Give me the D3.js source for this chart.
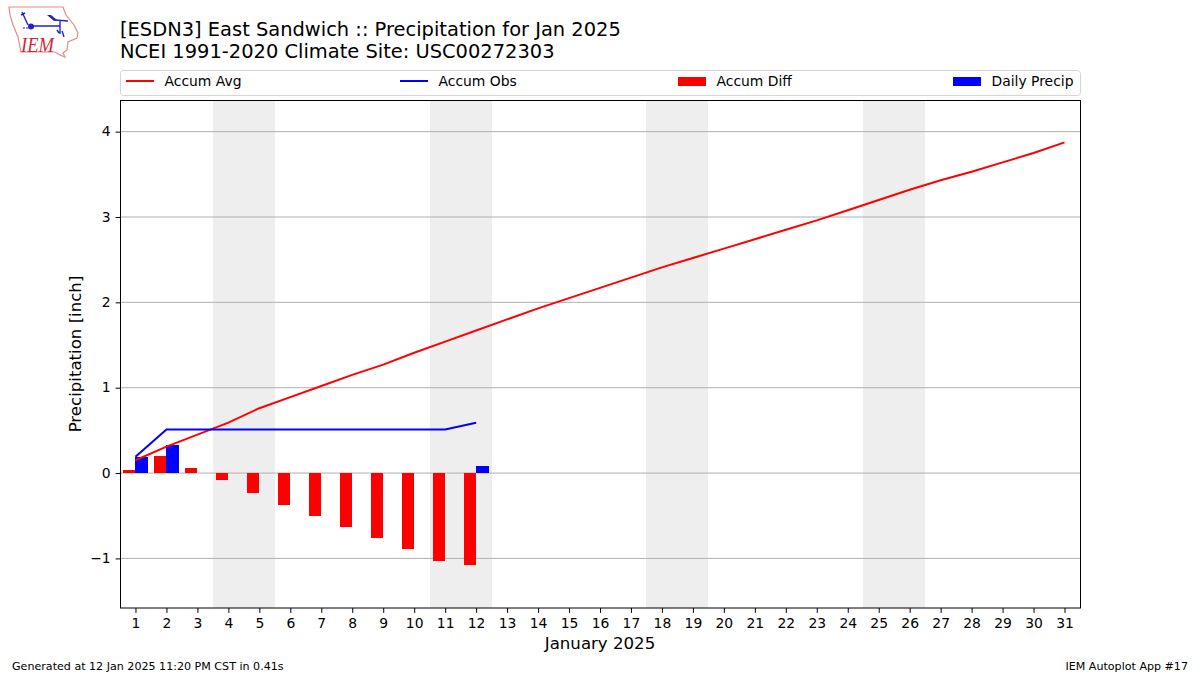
<!DOCTYPE html>
<html>
<head>
<meta charset="utf-8">
<script src="https://cdn.jsdelivr.net/npm/d3@7"></script>
<style>
  html, body { margin: 0; padding: 0; background: #fff; }
  text { font-family: "DejaVu Sans", sans-serif; fill: #000; }
</style>
</head>
<body>
<div id="chart"></div>
<script>
// Values
var days = d3.range(1, 32);
var accumAvg = [0.15, 0.31, 0.45, 0.59, 0.76, 0.89, 1.02, 1.15, 1.27, 1.41, 1.54, 1.67, 1.80, 1.93, 2.05, 2.17,
    2.29, 2.41, 2.52, 2.63, 2.74, 2.85, 2.96, 3.08, 3.20, 3.32, 3.43, 3.53, 3.64, 3.75, 3.875];
var accumObs = [0.19, 0.51, 0.51, 0.51, 0.51, 0.51, 0.51, 0.51, 0.51, 0.51, 0.51, 0.59];
var accumDiff = [0.035, 0.20, 0.06, -0.08, -0.235, -0.375, -0.505, -0.635, -0.76, -0.89, -1.03, -1.08];
var dailyPrecip = [0.19, 0.33, 0, 0, 0, 0, 0, 0, 0, 0, 0, 0.08];
var weekends = [[3.5, 5.5], [10.5, 12.5], [17.5, 19.5], [24.5, 26.5]];
var yTicks = [-1, 0, 1, 2, 3, 4];
var legendItems = [
    { label: "Accum Avg", color: "red", type: "line", x: 126 },
    { label: "Accum Obs", color: "blue", type: "line", x: 400 },
    { label: "Accum Diff", color: "red", type: "bar", x: 678 },
    { label: "Daily Precip", color: "blue", type: "bar", x: 953 }
];

var width = 1200, height = 675;
var plotLeft = 120.5, plotRight = 1080.5, plotTop = 100.5, plotBottom = 608;

var svg = d3.select("#chart").append("svg")
    .attr("width", width)
    .attr("height", height)
    .style("display", "block");

// Scales
var x = d3.scaleLinear().domain([0.5, 31.5]).range([120, 1080]);
var y = d3.scaleLinear().domain([-1.581, 4.365]).range([plotBottom, plotTop]);
var barW = x(1.4) - x(1);

// Weekend bands
svg.selectAll("rect.weekend")
    .data(weekends)
    .enter()
    .append("rect")
    .attr("class", "weekend")
    .attr("x", function (d) { return x(d[0]); })
    .attr("y", plotTop)
    .attr("width", function (d) { return x(d[1]) - x(d[0]); })
    .attr("height", plotBottom - plotTop)
    .attr("fill", "#eeeeee")
    .attr("shape-rendering", "crispEdges");

// Grid
svg.selectAll("line.grid")
    .data(yTicks)
    .enter()
    .append("line")
    .attr("class", "grid")
    .attr("x1", plotLeft)
    .attr("x2", plotRight)
    .attr("y1", function (d) { return y(d); })
    .attr("y2", function (d) { return y(d); })
    .attr("stroke", "#b0b0b0")
    .attr("stroke-width", 1);

// Bars
svg.selectAll("rect.diff")
    .data(accumDiff)
    .enter()
    .append("rect")
    .attr("class", "diff")
    .attr("x", function (d, i) { return x(days[i]) - barW; })
    .attr("y", function (d) { return y(Math.max(d, 0)); })
    .attr("width", barW)
    .attr("height", function (d) { return Math.abs(y(d) - y(0)); })
    .attr("fill", "red")
    .attr("shape-rendering", "crispEdges");

svg.selectAll("rect.daily")
    .data(dailyPrecip)
    .enter()
    .append("rect")
    .attr("class", "daily")
    .attr("x", function (d, i) { return x(days[i]); })
    .attr("y", function (d) { return y(d); })
    .attr("width", barW)
    .attr("height", function (d) { return y(0) - y(d); })
    .attr("fill", "blue")
    .attr("shape-rendering", "crispEdges");

// Lines
var line = d3.line()
    .x(function (d, i) { return x(days[i]); })
    .y(function (d) { return y(d); });

svg.append("path")
    .attr("d", line(accumAvg))
    .attr("fill", "none")
    .attr("stroke", "red")
    .attr("stroke-width", 2);

svg.append("path")
    .attr("d", line(accumObs))
    .attr("fill", "none")
    .attr("stroke", "blue")
    .attr("stroke-width", 2);

// Axes
var xAxis = d3.axisBottom(x).tickValues(days).tickFormat(d3.format("d")).tickSize(4.9).tickPadding(4.9);
var yAxis = d3.axisLeft(y).tickValues(yTicks)
    .tickFormat(function (d) { return d < 0 ? "\u2212" + Math.abs(d) : d; })
    .tickSize(4.9).tickPadding(4.9);

var gx = svg.append("g").attr("transform", "translate(0," + plotBottom + ")").call(xAxis);
var gy = svg.append("g").attr("transform", "translate(" + plotLeft + ",0)").call(yAxis);
gx.select(".domain").remove();
gy.select(".domain").remove();
gx.selectAll("text").style("font-size", "13.9px").style("font-family", "DejaVu Sans");
gy.selectAll("text").attr("dy", "0.3em").style("font-size", "13.9px").style("font-family", "DejaVu Sans");

svg.append("rect")
    .attr("x", plotLeft)
    .attr("y", plotTop)
    .attr("width", plotRight - plotLeft)
    .attr("height", plotBottom - plotTop)
    .attr("fill", "none")
    .attr("stroke", "#000")
    .attr("stroke-width", 1);

// Axis labels
svg.append("text")
    .attr("x", 600)
    .attr("y", 649)
    .attr("text-anchor", "middle")
    .style("font-size", "16.6px")
    .text("January 2025");

svg.append("text")
    .attr("transform", "translate(80.5,354) rotate(-90)")
    .attr("text-anchor", "middle")
    .style("font-size", "16.6px")
    .text("Precipitation [inch]");

// Titles
svg.append("text").attr("x", 120).attr("y", 35.5).style("font-size", "19.45px")
    .text("[ESDN3] East Sandwich :: Precipitation for Jan 2025");
svg.append("text").attr("x", 120).attr("y", 57.5).style("font-size", "19.45px")
    .text("NCEI 1991-2020 Climate Site: USC00272303");

// Legend
svg.append("rect")
    .attr("x", 120.5)
    .attr("y", 70.5)
    .attr("width", 960)
    .attr("height", 25)
    .attr("rx", 3)
    .attr("fill", "#fff")
    .attr("stroke", "#d5d5d5")
    .attr("stroke-width", 1);

var legend = svg.selectAll("g.legend")
    .data(legendItems)
    .enter()
    .append("g")
    .attr("class", "legend")
    .attr("transform", function (d) { return "translate(" + d.x + ",81)"; });

legend.filter(function (d) { return d.type === "line"; })
    .append("line")
    .attr("x1", 0)
    .attr("x2", 28)
    .attr("stroke", function (d) { return d.color; })
    .attr("stroke-width", 2);

legend.filter(function (d) { return d.type === "bar"; })
    .append("rect")
    .attr("y", -4)
    .attr("width", 28)
    .attr("height", 9)
    .attr("fill", function (d) { return d.color; })
    .attr("shape-rendering", "crispEdges");

legend.append("text")
    .attr("x", 38.5)
    .attr("y", 5)
    .style("font-size", "13.9px")
    .text(function (d) { return d.label; });

// Footer
svg.append("text").attr("x", 12).attr("y", 670).style("font-size", "11.1px")
    .text("Generated at 12 Jan 2025 11:20 PM CST in 0.41s");
svg.append("text").attr("x", 1188).attr("y", 670).attr("text-anchor", "end").style("font-size", "11.1px")
    .text("IEM Autoplot App #17");

// IEM logo
var logo = svg.append("g");
logo.append("path")
    .attr("d", "M9,7 L63,7 L66,15 L74,25 L78,33 L77,38 L68,42 L67,50 L63,53 L65,57 L60,55 L55,52 L21,52 L18,37 L13,25 L10,15 Z")
    .attr("fill", "#fff")
    .attr("stroke", "#e58a8a")
    .attr("stroke-width", 1.2);
logo.append("path")
    .attr("d", "M31,26 L60,26 M60,21 L60,34 M55,20 L68,21 M28,25 L22,12 M21,15 L25,13 M57,30 L59,33 M62,31 L64,37")
    .attr("fill", "none")
    .attr("stroke", "#2222cc")
    .attr("stroke-width", 1.4);
logo.append("path")
    .attr("d", "M47,15 L51,15 L57,20 L54,21 Z")
    .attr("fill", "#2222cc");
logo.append("circle").attr("cx", 31).attr("cy", 26.5).attr("r", 3).attr("fill", "#2222cc");
logo.append("circle").attr("cx", 24).attr("cy", 28).attr("r", 1).attr("fill", "#6666cc");
logo.append("circle").attr("cx", 27).attr("cy", 28).attr("r", 1).attr("fill", "#6666cc");
logo.append("text")
    .attr("x", 21)
    .attr("y", 52)
    .attr("textLength", 33)
    .attr("lengthAdjust", "spacingAndGlyphs")
    .style("font-family", "Liberation Serif")
    .style("font-style", "italic")
    .style("font-size", "21px")
    .style("fill", "#d02838")
    .text("IEM");
</script>
</body>
</html>
